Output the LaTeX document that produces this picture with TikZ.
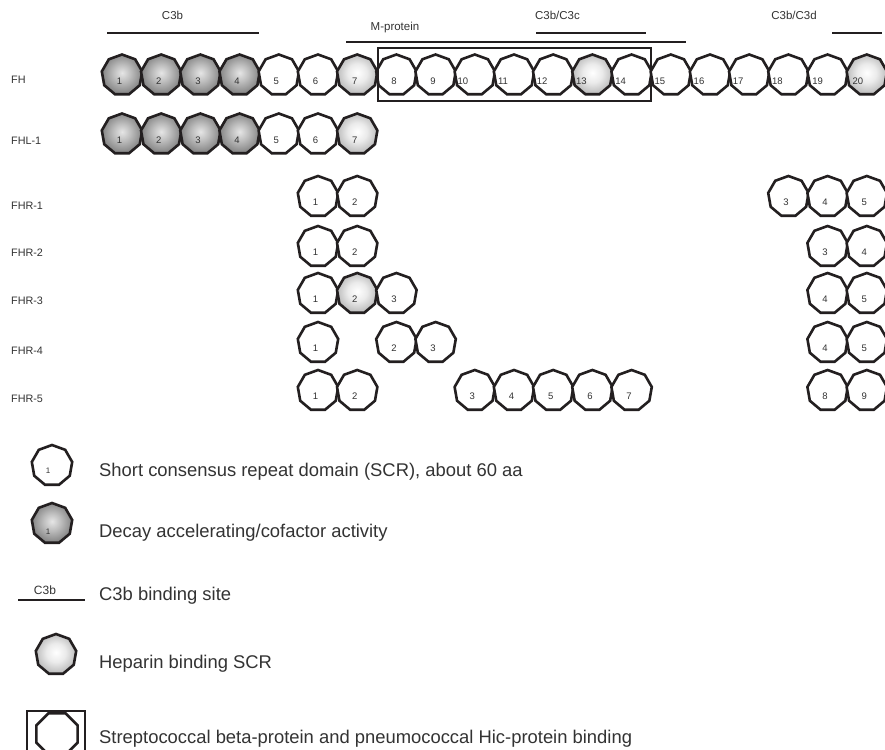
\documentclass[tikz,border=0pt]{standalone}
\usepackage{fontspec}
\setmainfont{Liberation Sans}
\usetikzlibrary{shapes.geometric}
\definecolor{ink}{HTML}{231F20}
\definecolor{txt}{HTML}{333333}
\definecolor{dk0}{gray}{0.90}
\definecolor{dk1}{gray}{0.74}
\definecolor{dk2}{gray}{0.52}
\definecolor{lt0}{gray}{1.00}
\definecolor{lt1}{gray}{0.92}
\definecolor{lt2}{gray}{0.74}
\pgfdeclareradialshading{darkscr}{\pgfpoint{0bp}{2bp}}{color(0bp)=(dk0); color(11bp)=(dk1); color(25bp)=(dk2); color(50bp)=(dk2)}
\pgfdeclareradialshading{lightscr}{\pgfpoint{0bp}{2bp}}{color(0bp)=(lt0); color(12bp)=(lt1); color(25bp)=(lt2); color(50bp)=(lt2)}
\tikzset{
  scrshape/.style={regular polygon, regular polygon sides=9, minimum size=41pt, inner sep=0pt, draw=ink, line width=2.6pt},
  plain/.style={scrshape, fill=white},
  dark/.style={scrshape, shade, shading=darkscr},
  light/.style={scrshape, shade, shading=lightscr},
  num/.style={font=\fontsize{9.5}{10}\selectfont, text=txt, inner sep=0pt},
  rowlab/.style={font=\fontsize{10.8}{12}\selectfont, text=txt, inner sep=0pt, anchor=base west},
  toplab/.style={font=\fontsize{11.5}{13}\selectfont, text=txt, inner sep=0pt, anchor=base},
  site/.style={draw=ink, line width=2.4pt},
  legtext/.style={font=\fontsize{18.4}{20}\selectfont, text=txt, inner sep=0pt, anchor=base west},
}
\begin{document}
\begin{tikzpicture}[x=1pt,y=-1pt]
\useasboundingbox (0,0) rectangle (885,749);
\clip (0,0) rectangle (885,749);
\fill[white] (0,0) rectangle (885,749);

% binding site bars and labels
\node[toplab] (lc3b) at (172.5,19.5) {C3b};
\coordinate (c3bA) at (107,33); \coordinate (c3bB) at (259,33);
\draw[site] (c3bA) -- (c3bB);
\node[toplab] (lmp) at (395,31) {M-protein};
\coordinate (mpA) at (346,42); \coordinate (mpB) at (686,42);
\draw[site] (mpA) -- (mpB);
\node[toplab] (lc3c) at (557.5,20) {C3b/C3c};
\coordinate (c3cA) at (536,33); \coordinate (c3cB) at (646,33);
\draw[site] (c3cA) -- (c3cB);
\node[toplab] (lc3d) at (794,20) {C3b/C3d};
\coordinate (c3dA) at (832,33); \coordinate (c3dB) at (882,33);
\draw[site] (c3dA) -- (c3dB);

% row labels
\node[rowlab] (tFH) at (11,84) {FH};
\node[rowlab] (tFHL) at (11,144) {FHL-1};
\node[rowlab] (tR1) at (11,209) {FHR-1};
\node[rowlab] (tR2) at (11,256) {FHR-2};
\node[rowlab] (tR3) at (11,304) {FHR-3};
\node[rowlab] (tR4) at (11,354) {FHR-4};
\node[rowlab] (tR5) at (11,402) {FHR-5};

% FH
\foreach \i/\s/\dx in {1/dark/-2.5,2/dark/-2.5,3/dark/-2.5,4/dark/-2.5,5/plain/-2.5,6/plain/-2.5,7/light/-2.5,8/plain/-2.5,9/plain/-2.5,10/plain/-12,11/plain/-11,12/plain/-11,13/light/-11,14/plain/-11,15/plain/-11,16/plain/-11,17/plain/-11,18/plain/-11,19/plain/-10,20/light/-9}{
  \node[\s] (fh\i) at ({122+(\i-1)*39.2},75) {};
  \node[num] (fhn\i) at ([xshift=\dx pt,yshift=-6pt]fh\i.center) {\i};
}
% M-protein / beta-protein box
\node[draw=ink, line width=2pt, minimum width=273pt, minimum height=53pt, inner sep=0pt] (mbox) at (514.5,74.5) {};

% FHL-1
\foreach \i/\s in {1/dark,2/dark,3/dark,4/dark,5/plain,6/plain,7/light}{
  \node[\s] (fhl\i) at ({122+(\i-1)*39.2},134) {};
  \node[num] (fhln\i) at ([xshift=-2.5pt,yshift=-6pt]fhl\i.center) {\i};
}

% FHR rows: name/number/column/y/style
\foreach \r/\i/\c/\y/\s in {
  a/1/6/196.5/plain, a/2/7/196.5/plain, a/3/18/196.5/plain, a/4/19/196.5/plain, a/5/20/196.5/plain,
  b/1/6/246.5/plain, b/2/7/246.5/plain, b/3/19/246.5/plain, b/4/20/246.5/plain,
  c/1/6/293.5/plain, c/2/7/293.5/light, c/3/8/293.5/plain, c/4/19/293.5/plain, c/5/20/293.5/plain,
  d/1/6/342.5/plain, d/2/8/342.5/plain, d/3/9/342.5/plain, d/4/19/342.5/plain, d/5/20/342.5/plain,
  e/1/6/390.5/plain, e/2/7/390.5/plain, e/3/10/390.5/plain, e/4/11/390.5/plain, e/5/12/390.5/plain,
  e/6/13/390.5/plain, e/7/14/390.5/plain, e/8/19/390.5/plain, e/9/20/390.5/plain}{
  \node[\s] (fhr\r\i) at ({122+(\c-1)*39.2},\y) {};
  \node[num] (fhrn\r\i) at ([xshift=-2.5pt,yshift=-6pt]fhr\r\i.center) {\i};
}

% legend
\node[plain] (leg1) at (52,465.5) {};
\node[num, font=\fontsize{8}{9}\selectfont] (leg1n) at (48,471) {1};
\node[legtext] (leg1t) at (99,476.5) {Short consensus repeat domain (SCR), about 60 aa};

\node[dark] (leg2) at (52,523.5) {};
\node[num, font=\fontsize{8}{9}\selectfont] (leg2n) at (48,531.5) {1};
\node[legtext] (leg2t) at (99,537.5) {Decay accelerating/cofactor activity};

\coordinate (leg3A) at (18,600); \coordinate (leg3B) at (85,600);
\draw[draw=ink, line width=2pt] (leg3A) -- (leg3B);
\node[toplab, font=\fontsize{12}{13}\selectfont] (leg3l) at (45,594) {C3b};
\node[legtext] (leg3t) at (99,600.5) {C3b binding site};

\node[light] (leg4) at (56,654.5) {};
\node[legtext] (leg4t) at (99,668.5) {Heparin binding SCR};

\node[draw=ink, line width=1.8pt, minimum width=58pt, minimum height=52pt, inner sep=0pt] (leg5box) at (56,737) {};
\node[regular polygon, regular polygon sides=8, minimum size=44.8pt, inner sep=0pt, draw=ink, line width=2.6pt, fill=white] (leg5) at (57,734) {};
\node[legtext] (leg5t) at (99,743.5) {Streptococcal beta-protein and pneumococcal Hic-protein binding};
\end{tikzpicture}
\end{document}
